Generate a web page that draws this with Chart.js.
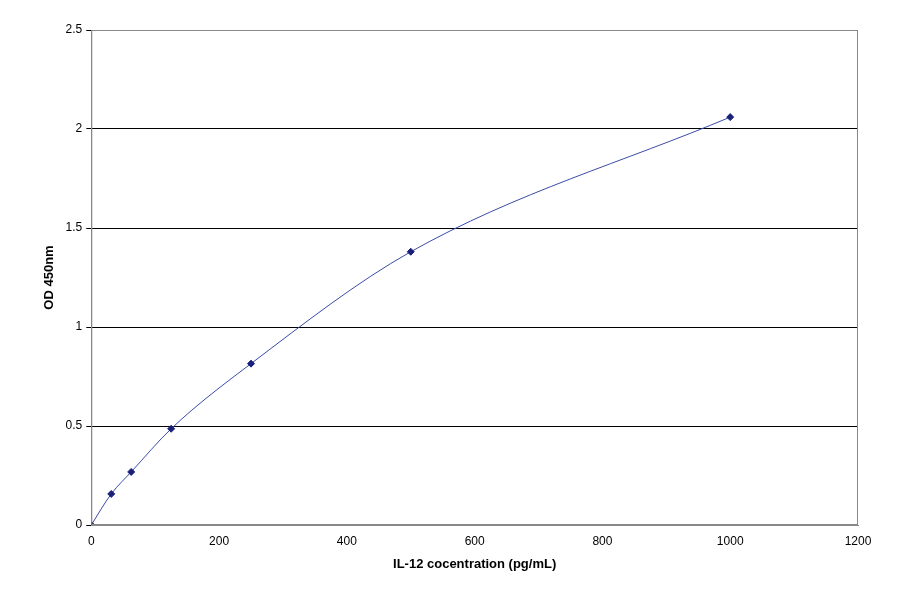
<!DOCTYPE html>
<html><head><script src="https://cdn.jsdelivr.net/npm/chart.js@4"></script>
<style>body{margin:0;background:#fff}#w{width:900px;height:594px}</style></head>
<body><div id="w"><canvas id="c"></canvas></div>
<script>
const concentrations=[0,31.25,62.5,125,250,500,1000];
const od=[0,0.157,0.268,0.486,0.815,1.38,2.06];
const xTicks=[0,200,400,600,800,1000,1200];
const yTicks=[0,0.5,1,1.5,2,2.5];
const F='"Liberation Sans", Arial, sans-serif';
new Chart(document.getElementById('c'),{
type:'scatter',
data:{datasets:[{data:concentrations.map((x,i)=>({x,y:od[i]})),showLine:true,tension:0.4,cubicInterpolationMode:'monotone',
borderColor:'#3b4ba8',borderWidth:1,pointStyle:'rectRot',pointRadius:3.5,pointBackgroundColor:'#1a1f7a',pointBorderColor:'#1a1f7a'}]},
options:{responsive:true,maintainAspectRatio:false,animation:false,
layout:{padding:{top:30,right:42,left:38,bottom:18}},
plugins:{legend:{display:false},tooltip:{enabled:false}},
scales:{
x:{type:'linear',min:0,max:1200,afterBuildTicks:a=>{a.ticks=xTicks.map(v=>({value:v}))},
grid:{display:false,drawTicks:true,tickLength:5,color:'#000'},border:{color:'#888'},
ticks:{color:'#000',font:{family:F,size:12},padding:4,callback:v=>String(v)},
title:{display:true,text:'IL-12 cocentration (pg/mL)',color:'#000',font:{family:F,size:13,weight:'bold'}}},
y:{min:0,max:2.5,afterBuildTicks:a=>{a.ticks=yTicks.map(v=>({value:v}))},
grid:{color:'#000',tickLength:5},border:{color:'#888'},
ticks:{color:'#000',font:{family:F,size:12},padding:4,callback:v=>String(v)},
title:{display:true,text:'OD 450nm',color:'#000',font:{family:F,size:13,weight:'bold'}}}
}},
plugins:[{id:'frame',afterDraw(c){const a=c.chartArea,x=c.ctx;x.save();x.strokeStyle='#888';x.lineWidth=1;x.strokeRect(a.left+.5,a.top+.5,a.width-1,a.height-1);x.restore();}}]
});
</script></body></html>
